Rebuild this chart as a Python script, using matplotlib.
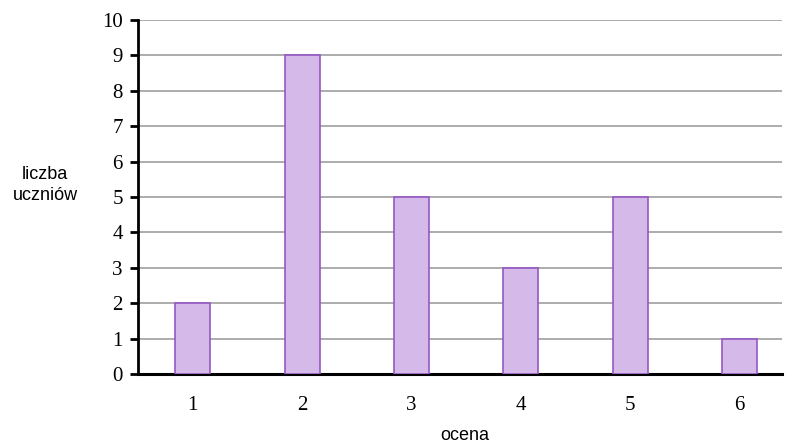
import matplotlib.pyplot as plt

# oceny i liczba uczniów
oceny = ["1", "2", "3", "4", "5", "6"]
liczba_uczniow = [2, 9, 5, 3, 5, 1]

fig = plt.figure(figsize=(7.9, 4.45), dpi=100)
ax = fig.add_axes([138 / 790, 1 - 374 / 445, (782 - 138) / 790, (374 - 20) / 445])

x = range(len(oceny))
ax.bar(x, liczba_uczniow, width=0.32, color="#d5b9e8", edgecolor="#9557c4",
       linewidth=1.2, zorder=3)

# wykres ucięty z prawej strony
ax.set_xlim(-0.5, 5.39)
ax.set_ylim(0, 10)
ax.set_yticks(range(0, 11))
ax.set_xticks(list(x))
ax.set_xticklabels(oceny)

# poziome linie siatki
ax.yaxis.grid(True, color="#a6a6a6", linewidth=1.3, zorder=0)
ax.set_axisbelow(True)

for side in ["top", "right"]:
    ax.spines[side].set_visible(False)
ax.spines["left"].set_linewidth(2)
ax.spines["bottom"].set_linewidth(2.2)

ax.tick_params(axis="y", length=6, width=2, pad=5)
ax.tick_params(axis="x", length=0, pad=16)
for lab in ax.get_xticklabels() + ax.get_yticklabels():
    lab.set_fontfamily("Liberation Serif")
    lab.set_fontsize(15)

fig.text(45 / 790, 1 - 185 / 445, "liczba\nuczniów", ha="center", va="center",
         fontsize=13, family="Liberation Sans", linespacing=1.3)
fig.text(465 / 790, 1 - 435 / 445, "ocena", ha="center", va="center",
         fontsize=13, family="Liberation Sans")

fig.savefig("out.png", dpi=100)
